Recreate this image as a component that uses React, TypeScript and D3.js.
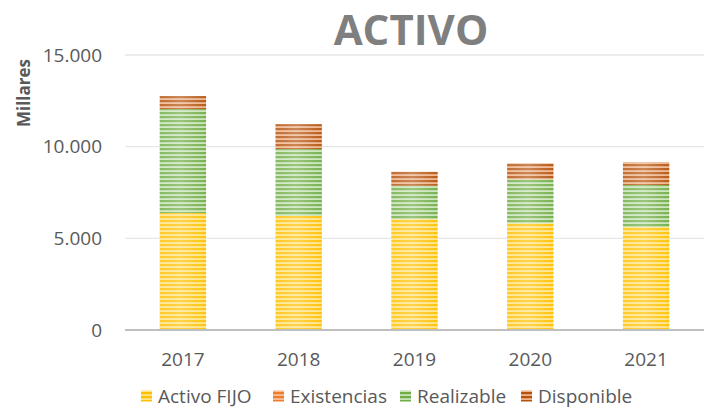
import { useRef, useEffect } from 'react'
import * as d3 from 'd3'

const YEARS = ['2017', '2018', '2019', '2020', '2021']
const ACTIVO_FIJO = [6380, 6220, 6050, 5820, 5620]
const EXISTENCIAS = [0, 0, 0, 0, 0]
const REALIZABLE = [5670, 3650, 1820, 2400, 2290]
const DISPONIBLE = [710, 1360, 760, 870, 1240]
const Y_TICKS = [0, 5000, 10000, 15000]

const SERIES = [
  { key: 'Activo FIJO', values: ACTIVO_FIJO, dark: '#FFC000', light: '#FFE58A' },
  { key: 'Existencias', values: EXISTENCIAS, dark: '#ED7D31', light: '#F8BE96' },
  { key: 'Realizable', values: REALIZABLE, dark: '#70AD47', light: '#C9E4B8' },
  { key: 'Disponible', values: DISPONIBLE, dark: '#B4530F', light: '#F0B48A' },
]

const FONT = '"Open Sans", "Noto Sans", sans-serif'
const W = 704
const H = 409

export default function App() {
  const svgRef = useRef<SVGSVGElement>(null)

  useEffect(() => {
    const el = svgRef.current
    if (!el) return
    const svg = d3.select(el)
    svg.selectAll('*').remove()

    const pad = { l: 125, r: 0, t: 55, b: 79 }
    const x = d3.scaleBand().domain(YEARS).range([pad.l, W - pad.r]).paddingInner(0.6).paddingOuter(0.3)
    const y = d3.scaleLinear().domain([0, 15000]).range([H - pad.b, pad.t])

    // stripe patterns
    const defs = svg.append('defs')
    SERIES.forEach((s, i) => {
      const p = defs.append('pattern')
        .attr('id', `stripe-${i}`)
        .attr('patternUnits', 'userSpaceOnUse')
        .attr('width', 8).attr('height', 4)
      p.append('rect').attr('width', 8).attr('height', 4).attr('fill', s.light)
      p.append('rect').attr('y', 0).attr('width', 8).attr('height', 2.2).attr('fill', s.dark)
    })
    const sheen = defs.append('linearGradient').attr('id', 'sheen').attr('x1', 0).attr('x2', 1).attr('y1', 0).attr('y2', 0)
    sheen.append('stop').attr('offset', '0%').attr('stop-color', '#fff').attr('stop-opacity', 0.15)
    sheen.append('stop').attr('offset', '45%').attr('stop-color', '#fff').attr('stop-opacity', 0.3)
    sheen.append('stop').attr('offset', '100%').attr('stop-color', '#fff').attr('stop-opacity', 0.05)

    // title
    svg.append('text')
      .attr('x', 411).attr('y', 45)
      .attr('text-anchor', 'middle')
      .attr('font-family', FONT).attr('font-weight', 700).attr('font-size', 42)
      .attr('fill', '#7F7F7F')
      .text('ACTIVO')

    // gridlines
    svg.append('g').selectAll('line')
      .data(Y_TICKS.filter(t => t > 0))
      .join('line')
      .attr('x1', pad.l).attr('x2', W)
      .attr('y1', d => y(d)).attr('y2', d => y(d))
      .attr('stroke', '#E6E6E6').attr('stroke-width', 1.3)

    // y tick labels
    const fmt = (v: number) => d3.format(',')(v).replace(/,/g, '.')
    svg.append('g').selectAll('text')
      .data(Y_TICKS)
      .join('text')
      .attr('x', 102).attr('y', d => y(d))
      .attr('dy', '0.35em')
      .attr('text-anchor', 'end')
      .attr('font-family', FONT).attr('font-size', 19)
      .attr('fill', '#595959')
      .text(d => fmt(d))

    // axis title
    svg.append('text')
      .attr('transform', `translate(24, 93) rotate(-90)`)
      .attr('text-anchor', 'middle')
      .attr('dy', '0.35em')
      .attr('font-family', FONT).attr('font-weight', 700).attr('font-size', 17)
      .attr('fill', '#595959')
      .text('Millares')

    // stacked bars
    const rows = YEARS.map((yr, i) => {
      const r: Record<string, number | string> = { year: yr }
      SERIES.forEach(s => { r[s.key] = s.values[i] })
      return r
    })
    const stack = d3.stack<Record<string, number | string>>().keys(SERIES.map(s => s.key))
      .value((d, k) => d[k] as number)
    const stacked = stack(rows)

    stacked.forEach((layer, i) => {
      const g = svg.append('g')
      g.selectAll('rect.seg')
        .data(layer.filter(d => d[1] > d[0]))
        .join('rect')
        .attr('class', 'seg')
        .attr('x', d => x(d.data.year as string)!)
        .attr('y', d => y(d[1]))
        .attr('width', x.bandwidth())
        .attr('height', d => y(d[0]) - y(d[1]))
        .attr('fill', `url(#stripe-${i})`)
      g.selectAll('rect.sheen')
        .data(layer.filter(d => d[1] > d[0]))
        .join('rect')
        .attr('class', 'sheen')
        .attr('x', d => x(d.data.year as string)!)
        .attr('y', d => y(d[1]))
        .attr('width', x.bandwidth())
        .attr('height', d => y(d[0]) - y(d[1]))
        .attr('fill', 'url(#sheen)')
    })

    // baseline
    svg.append('line')
      .attr('x1', pad.l).attr('x2', W)
      .attr('y1', y(0)).attr('y2', y(0))
      .attr('stroke', '#BFBFBF').attr('stroke-width', 2)

    // x labels
    svg.append('g').selectAll('text')
      .data(YEARS)
      .join('text')
      .attr('x', d => x(d)! + x.bandwidth() / 2)
      .attr('y', 366)
      .attr('text-anchor', 'middle')
      .attr('font-family', FONT).attr('font-size', 19)
      .attr('fill', '#595959')
      .text(d => d)

    // legend
    const legendX = [141, 273, 400, 521]
    const lg = svg.append('g')
    SERIES.forEach((s, i) => {
      const item = lg.append('g').attr('transform', `translate(${legendX[i]}, 396)`)
      item.append('rect').attr('x', 0).attr('y', -5.5).attr('width', 11).attr('height', 11)
        .attr('fill', `url(#stripe-${i})`)
      item.append('text')
        .attr('x', 17).attr('y', 0).attr('dy', '0.35em')
        .attr('font-family', FONT).attr('font-size', 19)
        .attr('fill', '#595959')
        .text(s.key)
    })
  }, [])

  return (
    <svg ref={svgRef} width={W} height={H}
      style={{ position: 'absolute', left: 0, top: 0, background: '#fff' }} />
  )
}
